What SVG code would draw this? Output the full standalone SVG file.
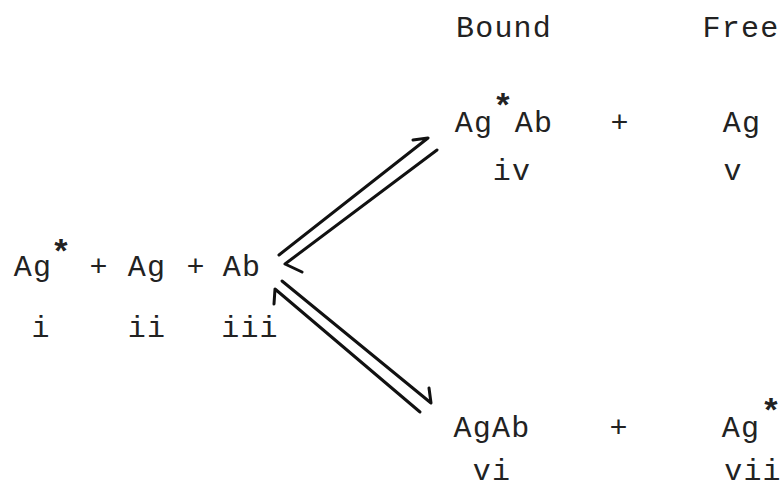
<svg xmlns="http://www.w3.org/2000/svg" width="783" height="486" viewBox="0 0 783 486">
<style>
text{font-family:"Liberation Mono","Courier New",monospace;font-size:30px;fill:#222;letter-spacing:1.2px}
.c{text-anchor:middle}
.s{font-size:34px;font-weight:bold;letter-spacing:0}
.arr{fill:none;stroke:#111;stroke-width:3;stroke-linecap:round;stroke-linejoin:round}
</style>
<rect width="783" height="486" fill="#fff"/>
<g id="headers">
<text class="c" x="504" y="37">Bound</text>
<text class="c" x="741" y="37">Free</text>
</g>
<g id="reactants">
<text class="c" x="33" y="276">Ag</text>
<text class="c s" x="61" y="263">*</text>
<text class="c" x="99" y="276">+</text>
<text class="c" x="147" y="276">Ag</text>
<text class="c" x="196" y="276">+</text>
<text class="c" x="242" y="276">Ab</text>
<text class="c" x="41" y="337">i</text>
<text class="c" x="147" y="337">ii</text>
<text class="c" x="250" y="337">iii</text>
</g>
<g id="bound-labelled">
<text class="c" x="474" y="132">Ag</text>
<text class="c s" x="503" y="117">*</text>
<text class="c" x="534" y="132">Ab</text>
<text class="c" x="512" y="180">iv</text>
</g>
<g id="plus-top"><text class="c" x="620" y="132">+</text></g>
<g id="free-unlabelled">
<text class="c" x="742" y="132">Ag</text>
<text class="c" x="733" y="180">v</text>
</g>
<g id="bound-unlabelled">
<text class="c" x="492" y="437">AgAb</text>
<text class="c" x="492" y="480">vi</text>
</g>
<g id="plus-bottom"><text class="c" x="619" y="437">+</text></g>
<g id="free-labelled">
<text class="c" x="741" y="437">Ag</text>
<text class="c s" x="771" y="422">*</text>
<text class="c" x="753" y="480">vii</text>
</g>
<g id="connectors">
<path class="arr" d="M279,255 L428,138 L413,140"/>
<path class="arr" d="M437,150 L285,264 L302,272"/>
<path class="arr" d="M282,281 L431,403 L429,388"/>
<path class="arr" d="M420,412 L275,289 L274,304"/>
</g>
</svg>
